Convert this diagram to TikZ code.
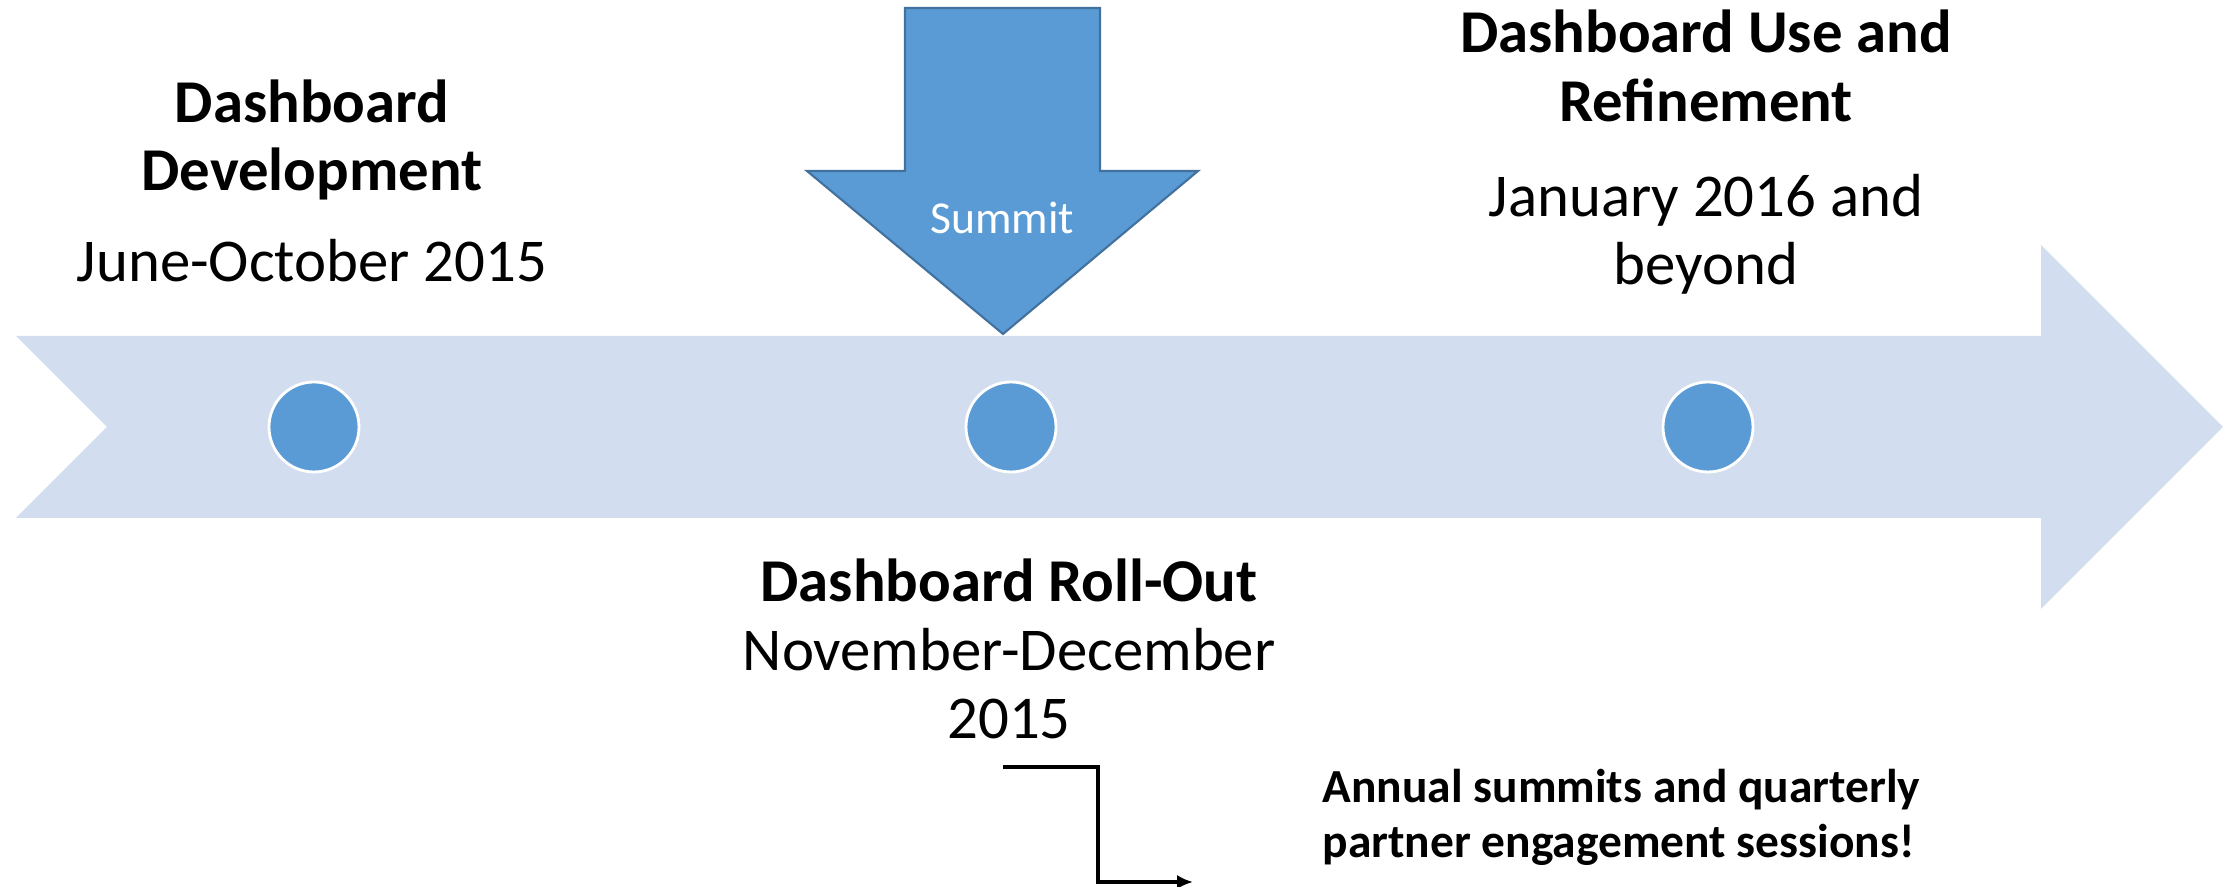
\documentclass[tikz,border=0pt]{standalone}
\usepackage{fontspec}
\setmainfont{Carlito}
\usetikzlibrary{arrows.meta, positioning}

\definecolor{bandblue}{HTML}{D2DEEF}
\definecolor{dotblue}{HTML}{5B9BD5}
\definecolor{edgeblue}{HTML}{41719C}

\begin{document}
\begin{tikzpicture}[
    dot/.style={circle, fill=dotblue, draw=white, line width=0.8pt, minimum size=0.9cm, inner sep=0pt},
    title/.style={align=center, inner sep=0pt, font=\fontsize{17.3}{19.4}\selectfont\bfseries},
    date/.style={align=center, inner sep=0pt, font=\fontsize{17.3}{19.4}\selectfont},
    note/.style={align=left, inner sep=0pt, font=\fontsize{13.5}{15.6}\selectfont\bfseries},
    elbow/.style={-{Latex[length=4.5pt, width=4pt]}, line width=1.4pt}
]

\useasboundingbox (0,0) rectangle (22.39,8.87);

% Definiere Koordinaten
\coordinate (elbow_start) at (10.03, 1.20);
\coordinate (elbow_bend) at (10.98, 1.20);
\coordinate (elbow_end) at (11.93, 0.05);

% Zeichne Zeitstrahl
\fill[bandblue] (0.16, 5.51) -- (20.41, 5.51) -- (20.41, 6.42) -- (22.23, 4.60)
    -- (20.41, 2.78) -- (20.41, 3.69) -- (0.16, 3.69) -- (1.07, 4.60) -- cycle;

% Zeichne Summit-Pfeil
\filldraw[fill=dotblue, draw=edgeblue, line width=0.6pt] (9.05, 8.79) -- (11.00, 8.79)
    -- (11.00, 7.16) -- (11.98, 7.16) -- (10.03, 5.53) -- (8.07, 7.16) -- (9.05, 7.16) -- cycle;
\node[text=white, font=\fontsize{13}{15}\selectfont] (summit) at (10.02, 6.69) {Summit};

% Zeichne Meilensteine
\node[dot] (dev) at (3.14, 4.60) {};
\node[dot] (rollout) at (10.11, 4.60) {};
\node[dot] (use) at (17.08, 4.60) {};

% Beschriftungen
\node[title] (dev_title) at (3.12, 7.47) {Dashboard\\Development};
\node[date] (dev_date) at (3.12, 6.26) {June-October 2015};

\node[title] (use_title) at (17.06, 8.21) {Dashboard Use and\\Refinement};
\node[date] (use_date) at (17.06, 6.53) {January 2016 and\\beyond};

\node[date] (rollout_text) at (10.09, 2.38) {\textbf{Dashboard Roll-Out}\\November-December\\2015};

% Zeichne Hinweis
\draw[elbow] (elbow_start) -- (elbow_bend) |- (elbow_end);
\node[note, anchor=west] (note) at (13.22, 0.70) {Annual summits and quarterly\\partner engagement sessions!};

\end{tikzpicture}
\end{document}
